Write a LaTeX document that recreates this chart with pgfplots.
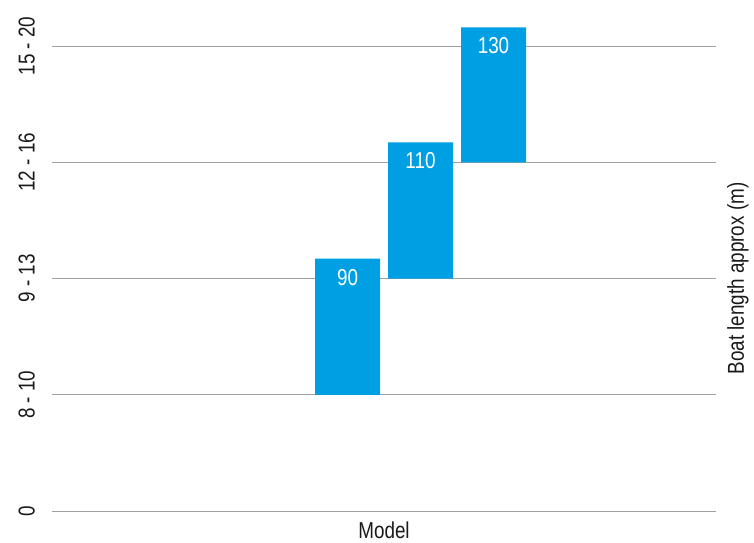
\documentclass[border=0pt]{standalone}
\usepackage{pgfplots}
\pgfplotsset{compat=1.18}
\usepackage{fontspec}
\setmainfont[FakeStretch=0.82]{Liberation Sans}
\definecolor{barblue}{HTML}{009FE3}
\definecolor{gridgrey}{HTML}{A0A0A0}
\definecolor{txt}{HTML}{1A1A1A}
\newcommand{\chfont}{\fontsize{23pt}{27pt}\selectfont}
\begin{document}
\begin{tikzpicture}
\useasboundingbox (0,0) rectangle (754pt,-542pt);
\begin{axis}[
  at={(52pt,-511pt)}, anchor=south west,
  scale only axis, width=664pt, height=465pt,
  xmin=52, xmax=716, ymin=0, ymax=4,
  clip=false,
  ybar stacked, bar width=65pt,
  axis line style={draw=none},
  tick style={draw=none},
  major tick length=0pt,
  xtick=\empty,
  ytick={0,1,2,3,4},
  yticklabels={0, 8 - 10, 9 - 13, 12 - 16, 15 - 20},
  yticklabel style={rotate=90, anchor=south, inner sep=0pt, font=\chfont, text=txt},
  yticklabel shift=17pt,
  ymajorgrids,
  grid style={gridgrey, line width=1pt},
]
\addplot[fill=none, draw=none] table[x=x, y=y] {
x y
347.5 1
420.5 2
493.5 3
};
\addplot[fill=barblue, draw=none,
  nodes near coords, point meta=explicit symbolic,
  nodes near coords style={anchor=north, inner sep=0pt, yshift=58pt, text=white, font=\chfont}]
  table[x=x, y=y, meta=label] {
x y label
347.5 1.17 90
420.5 1.17 110
493.5 1.16 130
};
\end{axis}
\node[anchor=base, text=txt, font=\chfont] at (384pt,-538pt) {Model};
\node[rotate=90, anchor=center, text=txt, font=\chfont] at (738pt,-278.5pt) {Boat length approx (m)};
\end{tikzpicture}
\end{document}
